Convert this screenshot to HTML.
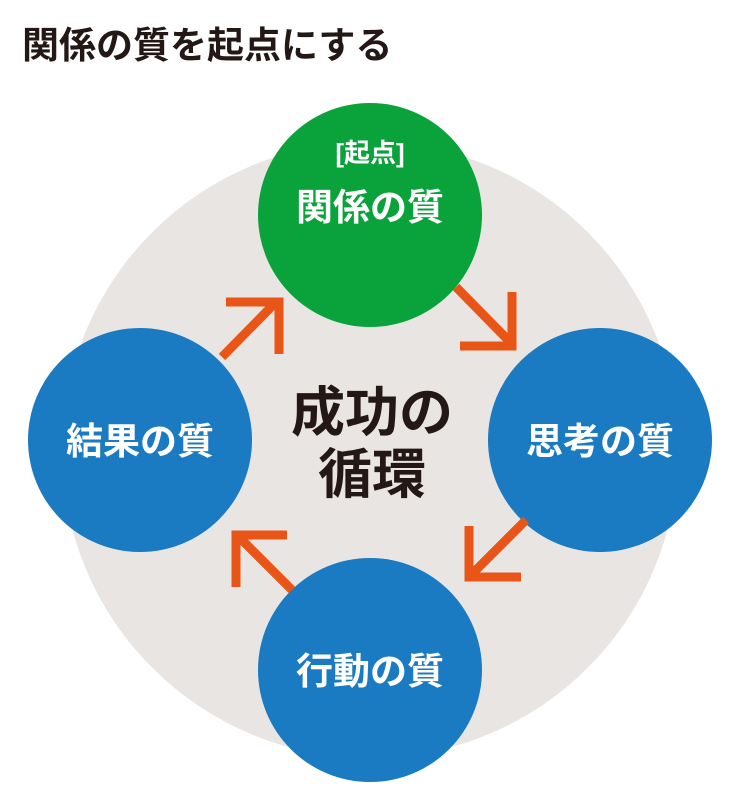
<!DOCTYPE html>
<html><head><meta charset="utf-8"><style>
body{margin:0;width:741px;height:800px;background:#fff;overflow:hidden;font-family:"Liberation Sans","Noto Sans CJK JP",sans-serif;}
</style></head><body>
<svg width="741" height="800" viewBox="0 0 741 800" xmlns="http://www.w3.org/2000/svg" style="font-family:'Liberation Sans','Noto Sans CJK JP',sans-serif;font-weight:bold">
<text x="22" y="58" font-size="37" fill="#231815">関係の質を起点にする</text>
<circle cx="370" cy="450" r="308" fill="#e9e5e2"/>
<circle cx="370" cy="215" r="112" fill="#0aa23a"/>
<circle cx="600" cy="440" r="112" fill="#1a7ac2"/>
<circle cx="140" cy="440" r="112" fill="#1a7ac2"/>
<circle cx="370" cy="670" r="112" fill="#1a7ac2"/>
<g stroke="#e85516" stroke-width="9" fill="none" stroke-linecap="butt">
<path d="M222 357 L276 302 M226 302 H279 V354"/>
<path d="M456 287 L510 342 M512 292 V346 H460"/>
<path d="M526 520 L472 574 M469 526 V577 H521"/>
<path d="M292 590 L239 537 M287 535 H236 V587"/>
</g>
<g fill="#fff" text-anchor="middle">
<text x="370" y="162" font-size="26">[起点]</text>
<text x="370" y="220" font-size="37">関係の質</text>
<text x="600" y="454" font-size="37">思考の質</text>
<text x="140" y="454" font-size="37">結果の質</text>
<text x="370" y="684" font-size="37">行動の質</text>
</g>
<g fill="#231815" text-anchor="middle" font-size="54">
<text x="372" y="431">成功の</text>
<text x="372" y="493">循環</text>
</g>
</svg>
</body></html>
